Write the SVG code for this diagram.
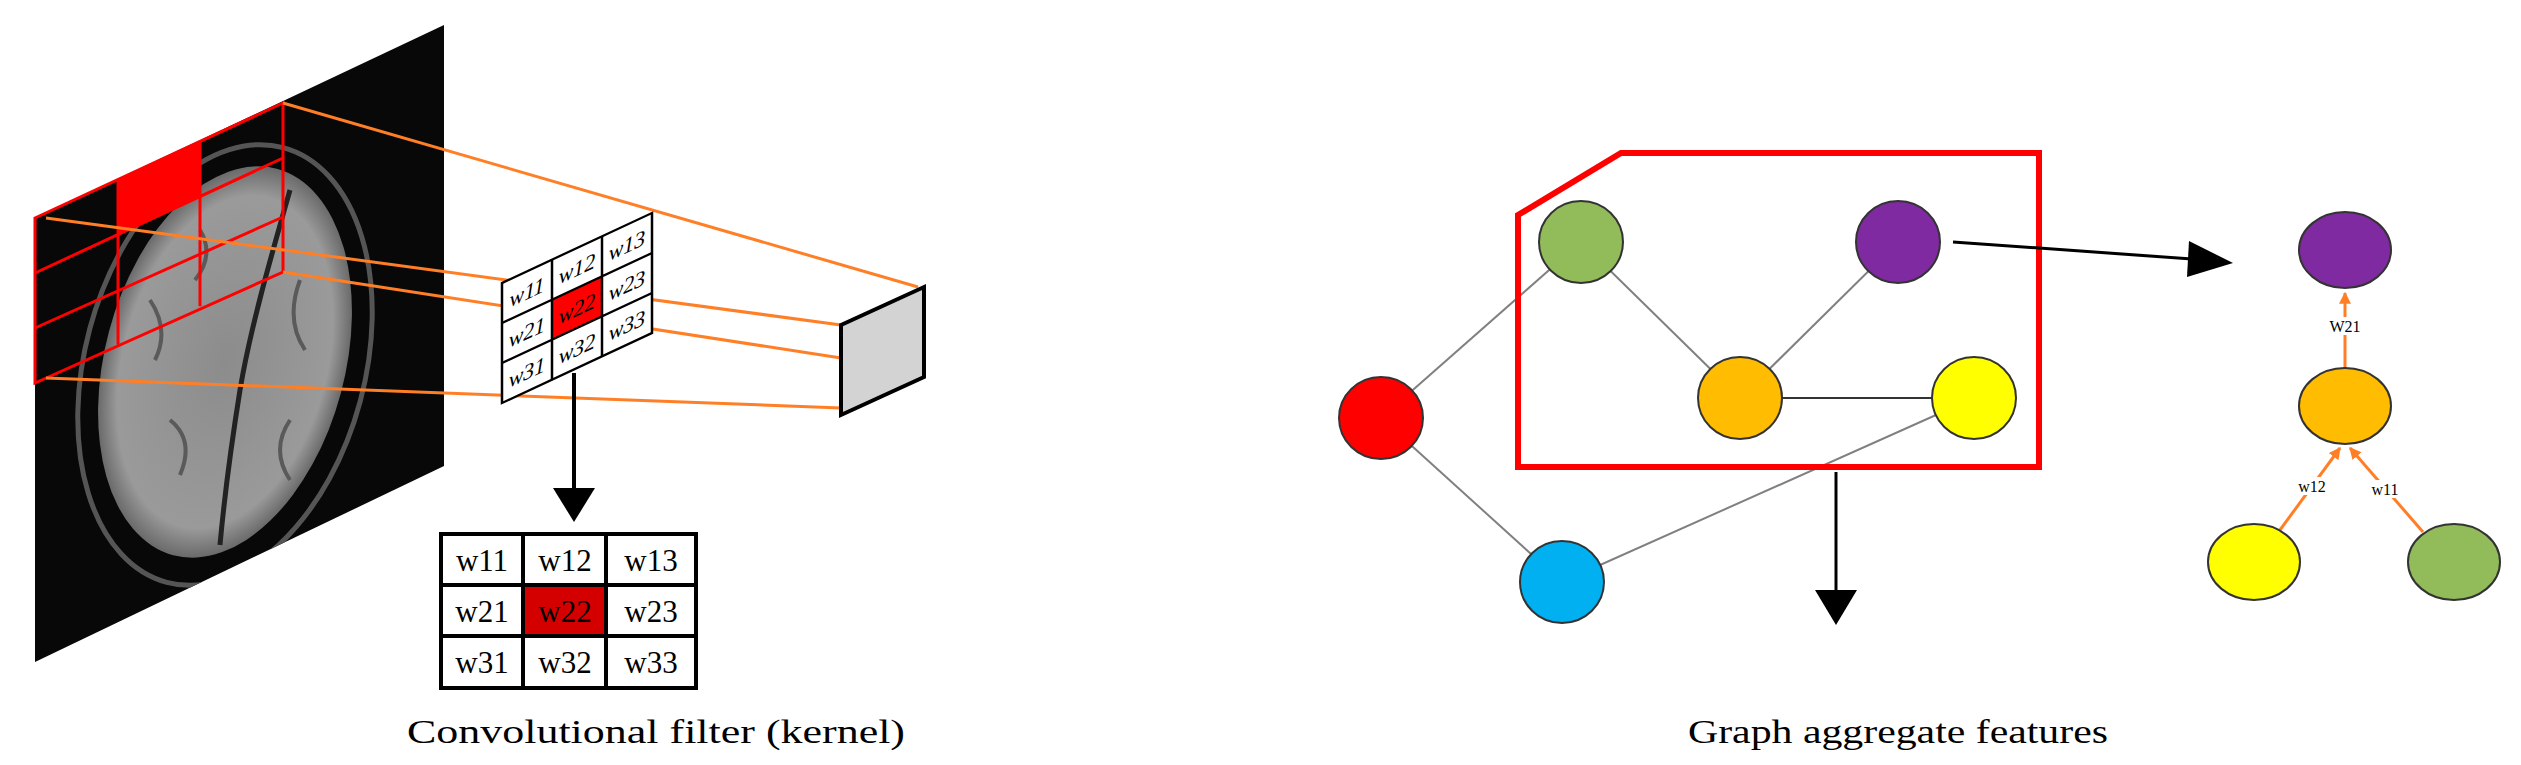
<svg xmlns="http://www.w3.org/2000/svg" width="2521" height="765" viewBox="0 0 2521 765">
<style>
.serif{font-family:"Liberation Serif","DejaVu Serif",serif;fill:#000}
.org{stroke:#ff7f27;stroke-width:3;fill:none}
.rg{stroke:#ff0000;stroke-width:3;fill:none}
.gl{stroke:#808080;stroke-width:2}
.node{stroke:#333;stroke-width:2}
.cell{fill:#fff;stroke:#000;stroke-width:3}
</style>
<defs>
<clipPath id="panel"><polygon points="35,218 444,25 444,466 35,662"/></clipPath>
<radialGradient id="brain" cx="50%" cy="50%" r="50%">
<stop offset="0" stop-color="#8c8c8c"/><stop offset="0.85" stop-color="#9a9a9a"/><stop offset="1" stop-color="#6a6a6a"/>
</radialGradient>
<marker id="oarr" viewBox="0 0 10 10" refX="9" refY="5" markerWidth="4" markerHeight="4" orient="auto"><path d="M0,0 L10,5 L0,10 z" fill="#ff7f27"/></marker>
</defs>
<rect width="2521" height="765" fill="#fff"/>

<g id="mri">
<polygon points="35,218 444,25 444,466 35,662" fill="#080808"/>
<g clip-path="url(#panel)">
<ellipse cx="225" cy="365" rx="140" ry="225" transform="rotate(15 225 365)" fill="none" stroke="#555" stroke-width="5"/>
<ellipse cx="225" cy="362" rx="120" ry="200" transform="rotate(15 225 362)" fill="url(#brain)"/>
<path d="M290,190 C270,260 250,330 240,390 C232,440 225,490 220,545" stroke="#222" stroke-width="5" fill="none"/>
<path d="M150,300 q20,30 5,60 M170,420 q25,20 10,55 M300,280 q-15,40 5,70 M290,420 q-20,30 0,60 M200,230 q15,25 -5,50" stroke="#5a5a5a" stroke-width="4" fill="none"/>
</g>
<polygon points="35,218 283,103 283,272 35,383" class="rg"/>
<polygon points="118,179.7 200,141.3 200,196.3 118,234.7" fill="#ff0000"/>
<path d="M118,179.7 V344.7 M200,141.3 V306.3 M35,273 L283,158 M35,328 L283,217" class="rg"/>
</g>

<g id="orange-lines">
<line x1="283" y1="103" x2="918" y2="287" class="org"/>
<line x1="46" y1="218" x2="841" y2="325" class="org"/>
<line x1="283" y1="272" x2="841" y2="358" class="org"/>
<line x1="46" y1="378" x2="841" y2="408" class="org"/>
</g>

<g id="kernel-skewed" transform="translate(502,283) matrix(1,-0.4667,0,1,0,0)">
<rect x="0" y="0" width="150" height="120" fill="#fff" stroke="#000" stroke-width="2.5"/>
<rect x="50" y="40" width="50" height="40" fill="#ff0000"/>
<path d="M50,0 V120 M100,0 V120 M0,40 H150 M0,80 H150" stroke="#000" stroke-width="2.5"/>
<g class="serif" font-size="22" text-anchor="middle" font-style="italic">
<text x="25" y="28">w11</text><text x="75" y="28">w12</text><text x="125" y="28">w13</text>
<text x="25" y="68">w21</text><text x="75" y="68">w22</text><text x="125" y="68">w23</text>
<text x="25" y="108">w31</text><text x="75" y="108">w32</text><text x="125" y="108">w33</text>
</g>
</g>

<g id="output-cell">
<polygon points="841,325 924,287 924,377 841,415" fill="#d3d3d3" stroke="#000" stroke-width="4"/>
</g>

<g id="kernel-table">
<rect x="441" y="534" width="255" height="154" class="cell"/>
<rect x="523" y="585" width="83" height="51" fill="#d40000"/>
<path d="M523,534 V688 M606,534 V688 M441,585 H696 M441,636 H696" stroke="#000" stroke-width="4"/>
<rect x="441" y="534" width="255" height="154" fill="none" stroke="#000" stroke-width="4"/>
<g class="serif" font-size="31" text-anchor="middle">
<text x="482" y="571">w11</text><text x="565" y="571">w12</text><text x="651" y="571">w13</text>
<text x="482" y="622">w21</text><text x="565" y="622">w22</text><text x="651" y="622">w23</text>
<text x="482" y="673">w31</text><text x="565" y="673">w32</text><text x="651" y="673">w33</text>
</g>
</g>

<g id="graph-edges">
<line x1="1581" y1="242" x2="1740" y2="398" class="gl"/>
<line x1="1898" y1="242" x2="1740" y2="398" class="gl"/>
<line x1="1740" y1="398" x2="1974" y2="398" stroke="#333" stroke-width="2"/>
<line x1="1381" y1="418" x2="1581" y2="242" class="gl"/>
<line x1="1381" y1="418" x2="1562" y2="582" class="gl"/>
<line x1="1562" y1="582" x2="1974" y2="398" class="gl"/>
</g>

<g id="selection-box">
<polygon points="1518,215 1621,153 2039,153 2039,467 1518,467" fill="none" stroke="#ff0000" stroke-width="6"/>
</g>

<g id="graph-nodes">
<ellipse id="n-green" cx="1581" cy="242" rx="42" ry="41" fill="#92bc5a" class="node"/>
<ellipse id="n-purple" cx="1898" cy="242" rx="42" ry="41" fill="#7f2aa0" class="node"/>
<ellipse id="n-orange" cx="1740" cy="398" rx="42" ry="41" fill="#ffbc00" class="node"/>
<ellipse id="n-yellow" cx="1974" cy="398" rx="42" ry="41" fill="#ffff00" class="node"/>
<ellipse id="n-red" cx="1381" cy="418" rx="42" ry="41" fill="#ff0000" class="node"/>
<ellipse id="n-blue" cx="1562" cy="582" rx="42" ry="41" fill="#00b0f0" class="node"/>
</g>

<g id="black-arrows">
<line x1="574" y1="373" x2="574" y2="490" stroke="#000" stroke-width="4"/>
<polygon points="553,488 595,488 574,522" fill="#000"/>
<line x1="1836" y1="472" x2="1836" y2="592" stroke="#000" stroke-width="3"/>
<polygon points="1815,590 1857,590 1836,625" fill="#000"/>
<line x1="1953" y1="242" x2="2192" y2="259" stroke="#000" stroke-width="3"/>
<polygon points="2233,263 2189,241 2187,277" fill="#000"/>
</g>

<g id="tree-edges">
<line x1="2345" y1="368" x2="2345" y2="293" class="org" stroke-width="4" marker-end="url(#oarr)"/>
<line x1="2280" y1="530" x2="2340" y2="448" class="org" stroke-width="4" marker-end="url(#oarr)"/>
<line x1="2423" y1="532" x2="2350" y2="448" class="org" stroke-width="4" marker-end="url(#oarr)"/>
<rect x="2329" y="317" width="32" height="18" fill="#fff"/>
<rect x="2297" y="477" width="30" height="18" fill="#fff"/>
<rect x="2369" y="480" width="31" height="18" fill="#fff"/>
<g class="serif" font-size="16" text-anchor="middle" fill="#1a3a5a">
<text x="2345" y="332">W21</text><text x="2312" y="492">w12</text><text x="2385" y="495">w11</text>
</g>
</g>

<g id="tree-nodes">
<ellipse id="t-purple" cx="2345" cy="250" rx="46" ry="38" fill="#7f2aa0" class="node"/>
<ellipse id="t-orange" cx="2345" cy="406" rx="46" ry="38" fill="#ffbc00" class="node"/>
<ellipse id="t-yellow" cx="2254" cy="562" rx="46" ry="38" fill="#ffff00" class="node"/>
<ellipse id="t-green" cx="2454" cy="562" rx="46" ry="38" fill="#92bc5a" class="node"/>
</g>

<g id="captions" class="serif" font-size="34">
<text x="656" y="743" text-anchor="middle" textLength="498" lengthAdjust="spacingAndGlyphs">Convolutional filter (kernel)</text>
<text x="1898" y="743" text-anchor="middle" textLength="420" lengthAdjust="spacingAndGlyphs">Graph aggregate features</text>
</g>
</svg>
